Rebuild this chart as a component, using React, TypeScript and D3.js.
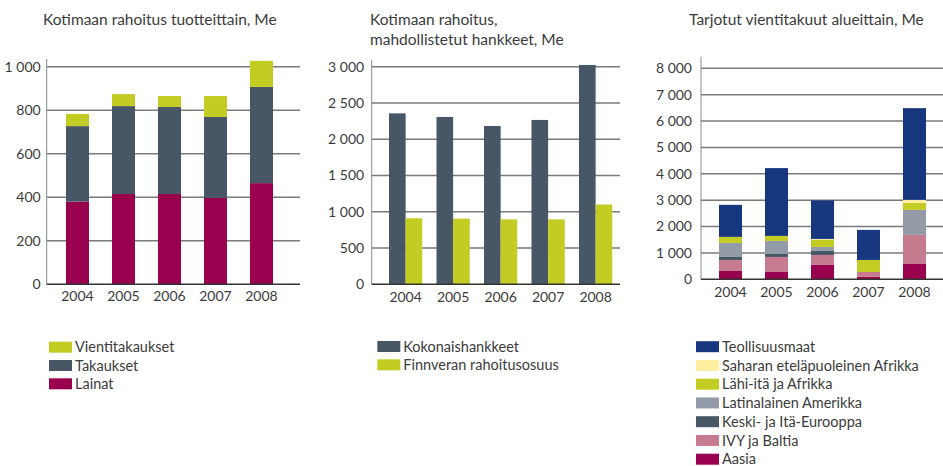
import React, { useEffect, useRef } from "react";
import * as d3 from "d3";

// data
const years = ["2004", "2005", "2006", "2007", "2008"];

// panel 1: Kotimaan rahoitus tuotteittain, Me
const lainat = [380, 415, 415, 397, 465];
const takaukset = [347, 404, 400, 372, 442];
const vientitakaukset = [56, 55, 50, 96, 120];
const yTicks1 = [0, 200, 400, 600, 800, 1000];

// panel 2: mahdollistetut hankkeet
const kokonaishankkeet = [2357, 2307, 2183, 2266, 3024];
const finnveranOsuus = [910, 905, 895, 895, 1100];
const yTicks2 = [0, 500, 1000, 1500, 2000, 2500, 3000];

// panel 3: Tarjotut vientitakuut alueittain, Me
const aasia = [316, 279, 544, 101, 582];
const ivyBaltia = [418, 569, 380, 178, 1102];
const keskiIta = [114, 114, 152, 0, 0];
const latinalainen = [532, 494, 152, 0, 949];
const lahiIta = [228, 190, 278, 455, 266];
const saharan = [0, 0, 25, 0, 114];
const teollisuus = [1215, 2570, 1460, 1140, 3476];
const yTicks3 = [0, 1000, 2000, 3000, 4000, 5000, 6000, 7000, 8000];

const C = {
  crimson: "#99004d",
  slate: "#475766",
  lime: "#c2cc22",
  navy: "#16377d",
  sand: "#fdeea0",
  grey: "#939ca6",
  pink: "#c67b8f",
};
const textColor = "#3b3b3b";
const font = "Lato, 'Open Sans', sans-serif";

const locale = d3.formatLocale({ decimal: ",", thousands: " ", grouping: [3], currency: ["", ""] });
const fmt = locale.format(",");

type Series = { name: string; values: number[]; color: string };

const App: React.FC = () => {
  const svgRef = useRef<SVGSVGElement | null>(null);

  useEffect(() => {
    document.body.style.margin = "0";
    const svg = d3.select(svgRef.current);
    svg.selectAll("*").remove();

    // gridlines, tick labels and year labels
    const frame = (
      y: d3.ScaleLinear<number, number>,
      x: d3.ScaleBand<string>,
      ticks: number[],
      axisX: number,
      right: number,
      labelGap: number,
      yearBase: number
    ) => {
      const g = svg.append("g");
      g.selectAll("line.grid")
        .data(ticks.filter((t) => t > 0))
        .enter()
        .append("line")
        .attr("x1", axisX)
        .attr("x2", right)
        .attr("y1", (d) => y(d))
        .attr("y2", (d) => y(d))
        .attr("stroke", "#7a7a7a")
        .attr("stroke-width", 1.6);
      g.selectAll("text.tick")
        .data(ticks)
        .enter()
        .append("text")
        .attr("x", axisX - labelGap)
        .attr("y", (d) => y(d))
        .attr("dy", "0.35em")
        .attr("text-anchor", "end")
        .attr("font-family", font)
        .attr("font-size", 14)
        .attr("fill", textColor)
        .text((d) => fmt(d));
      g.selectAll("text.year")
        .data(years)
        .enter()
        .append("text")
        .attr("x", (d) => x(d)! + x.bandwidth() / 2)
        .attr("y", yearBase)
        .attr("text-anchor", "middle")
        .attr("font-family", font)
        .attr("font-size", 14)
        .attr("fill", textColor)
        .text((d) => d);
    };

    const axisLines = (y0: number, axisX: number, axisTop: number, right: number) => {
      svg.append("line")
        .attr("x1", axisX).attr("x2", axisX)
        .attr("y1", axisTop).attr("y2", y0)
        .attr("stroke", "#8a8a8a").attr("stroke-width", 1);
      svg.append("line")
        .attr("x1", axisX).attr("x2", right)
        .attr("y1", y0).attr("y2", y0)
        .attr("stroke", "#333").attr("stroke-width", 1.6);
    };

    const stacked = (
      series: Series[],
      x: d3.ScaleBand<string>,
      y: d3.ScaleLinear<number, number>
    ) => {
      const rows = years.map((yr, i) => {
        const r: Record<string, number | string> = { year: yr };
        series.forEach((s) => (r[s.name] = s.values[i]));
        return r;
      });
      const stack = d3.stack<Record<string, number | string>>().keys(series.map((s) => s.name));
      const layers = stack(rows as any);
      layers.forEach((layer, li) => {
        svg.append("g")
          .selectAll("rect")
          .data(layer)
          .enter()
          .append("rect")
          .attr("x", (d) => x(d.data.year as string)!)
          .attr("y", (d) => y(d[1]))
          .attr("width", x.bandwidth())
          .attr("height", (d) => Math.max(0, y(d[0]) - y(d[1])))
          .attr("fill", series[li].color);
      });
    };

    const legend = (items: Series[], x: number, top: number, step: number) => {
      const g = svg.append("g");
      items.forEach((s, i) => {
        g.append("rect")
          .attr("x", x)
          .attr("y", top + i * step)
          .attr("width", 23)
          .attr("height", 11)
          .attr("fill", s.color);
        g.append("text")
          .attr("x", x + 26)
          .attr("y", top + i * step + 5.5)
          .attr("dy", "0.35em")
          .attr("font-family", font)
          .attr("font-size", 14.5)
          .attr("fill", textColor)
          .text(s.name);
      });
    };

    const title = (lines: string[], x: number) => {
      lines.forEach((t, i) => {
        svg.append("text")
          .attr("x", x)
          .attr("y", 25 + i * 19.5)
          .attr("font-family", font)
          .attr("font-size", 15.5)
          .attr("fill", textColor)
          .text(t);
      });
    };

    // ---------- panel 1 ----------
    const x1 = d3.scaleBand().domain(years).range([54.5, 284.5]).paddingInner(0.5).paddingOuter(0.25);
    const y1 = d3.scaleLinear().domain([0, 1000]).range([284.3, 66.7]);
    title(["Kotimaan rahoitus tuotteittain, Me"], 43);
    frame(y1, x1, yTicks1, 46.7, 300, 6, 301);
    const s1: Series[] = [
      { name: "Lainat", values: lainat, color: C.crimson },
      { name: "Takaukset", values: takaukset, color: C.slate },
      { name: "Vientitakaukset", values: vientitakaukset, color: C.lime },
    ];
    stacked(s1, x1, y1);
    axisLines(y1(0), 46.7, 59, 300);
    legend([...s1].reverse(), 49, 341.7, 18.3);

    // ---------- panel 2 ----------
    const x2 = d3.scaleBand().domain(years).range([374.75, 626.5]).paddingInner(0.3).paddingOuter(0.3);
    const sub = d3.scaleBand().domain(["k", "f"]).range([0, x2.bandwidth()]);
    const y2 = d3.scaleLinear().domain([0, 3000]).range([284.3, 66.7]);
    title(["Kotimaan rahoitus,", "mahdollistetut hankkeet, Me"], 370);
    frame(y2, x2, yTicks2, 371.7, 620, 7.5, 302);
    const g2 = svg.append("g");
    years.forEach((yr, i) => {
      g2.append("rect")
        .attr("x", x2(yr)! + sub("k")!)
        .attr("y", y2(kokonaishankkeet[i]))
        .attr("width", sub.bandwidth())
        .attr("height", y2(0) - y2(kokonaishankkeet[i]))
        .attr("fill", C.slate);
      g2.append("rect")
        .attr("x", x2(yr)! + sub("f")!)
        .attr("y", y2(finnveranOsuus[i]))
        .attr("width", sub.bandwidth())
        .attr("height", y2(0) - y2(finnveranOsuus[i]))
        .attr("fill", C.lime);
    });
    axisLines(y2(0), 371.7, 60, 620);
    legend(
      [
        { name: "Kokonaishankkeet", values: kokonaishankkeet, color: C.slate },
        { name: "Finnveran rahoitusosuus", values: finnveranOsuus, color: C.lime },
      ],
      377.3,
      341,
      18.3
    );

    // ---------- panel 3 ----------
    const x3 = d3.scaleBand().domain(years).range([707.5, 937.5]).paddingInner(0.5).paddingOuter(0.25);
    const y3 = d3.scaleLinear().domain([0, 8000]).range([279.3, 68.3]);
    title(["Tarjotut vientitakuut alueittain, Me"], 689);
    frame(y3, x3, yTicks3, 701, 943, 9, 297);
    const s3: Series[] = [
      { name: "Aasia", values: aasia, color: C.crimson },
      { name: "IVY ja Baltia", values: ivyBaltia, color: C.pink },
      { name: "Keski- ja Itä-Eurooppa", values: keskiIta, color: C.slate },
      { name: "Latinalainen Amerikka", values: latinalainen, color: C.grey },
      { name: "Lähi-itä ja Afrikka", values: lahiIta, color: C.lime },
      { name: "Saharan eteläpuoleinen Afrikka", values: saharan, color: C.sand },
      { name: "Teollisuusmaat", values: teollisuus, color: C.navy },
    ];
    stacked(s3, x3, y3);
    axisLines(y3(0), 701, 56.7, 943);
    legend([...s3].reverse(), 696, 341.2, 18.75);
  }, []);

  return <svg ref={svgRef} width={943} height={466} style={{ display: "block", background: "#fff" }}></svg>;
};

export default App;
